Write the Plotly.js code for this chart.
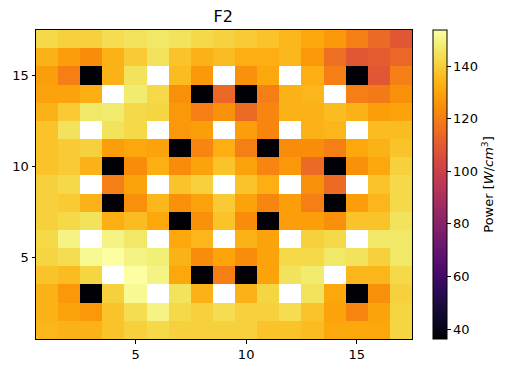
<!DOCTYPE html>
<html>
<head>
<meta charset="utf-8">
<script src="https://cdn.plot.ly/plotly-3.0.1.min.js"></script>
<style>html,body{margin:0;padding:0;background:#fff;}#chart{width:519px;height:372px;}</style>
</head>
<body>
<div id="chart"></div>
<script>
// Grid coordinates
const xCoords = [1,2,3,4,5,6,7,8,9,10,11,12,13,14,15,16,17];
const yCoords = [1,2,3,4,5,6,7,8,9,10,11,12,13,14,15,16,17];
const N = null; // masked (blank) cells
const B = 36.6; // darkest cells
// Power values, one row per y (y = 1 first)
const rowY1  = [134.5,133.5,133.5,137.5,140.5,142.5,140.5,140.5,140.5,140.5,137.5,137.5,136,131,131,131,141.5];
const rowY2  = [133.5,129.5,127,137.5,143.5,150,142.5,140.5,143.5,140.5,140.5,143.5,137.5,129.5,122,129.5,141.5];
const rowY3  = [133.5,127,B,140.5,152,N,145,133.5,N,133.5,141.5,N,145,131,B,125,140.5];
const rowY4  = [137.5,136,141.5,N,153.5,150,131,B,120,B,129.5,145,147.5,N,134.5,134.5,142.5];
const rowY5  = [141.5,143.5,152,153.5,150,148.5,133.5,124,130,124,129.5,142.5,142.5,146.5,145,140.5,146.5];
const rowY6  = [142.5,150,N,150,146.5,N,131,134.5,N,133.5,129.5,N,140.5,142.5,N,146.5,146.5];
const rowY7  = [140.5,142.5,145,132.5,136,131,B,125,137.5,124,B,128.5,128.5,125,137.5,137.5,145];
const rowY8  = [140.5,139,133.5,B,125,134.5,125,129.5,139,129.5,122,128.5,120,B,128.5,134.5,142.5];
const rowY9  = [140.5,142.5,N,120,129.5,N,137.5,140.5,N,137.5,132.5,N,125,115,N,137.5,142.5];
const rowY10 = [137.5,139,133.5,B,124,132.5,124,129.5,137.5,129.5,122,127,115,B,125,131,140.5];
const rowY11 = [137.5,139,140.5,128.5,131,129.5,B,122,132.5,120,B,124,124,120,131,133.5,137.5];
const rowY12 = [137.5,145,N,145,142.5,N,127,128.5,N,128.5,122,N,133.5,134.5,N,136,136];
const rowY13 = [133.5,139,146.5,147.5,142.5,141.5,127,120,125,115,122,133.5,133.5,136,133.5,128.5,129.5];
const rowY14 = [129.5,129.5,132.5,N,147.5,142.5,125,B,114,B,120,133.5,134.5,N,120,119,125];
const rowY15 = [128.5,120,B,133.5,145,N,136,127,N,125,131,N,132.5,120,B,109,120];
const rowY16 = [133.5,128.5,124,133.5,139,145,137.5,133.5,136,132.5,132.5,134.5,127,116,109,111,114];
const rowY17 = [142.5,140.5,140.5,143.5,145,146.5,145,142.5,141,139,137.5,134.5,131,127,120,115,109];
const zRows = [rowY1,rowY2,rowY3,rowY4,rowY5,rowY6,rowY7,rowY8,rowY9,rowY10,rowY11,rowY12,rowY13,rowY14,rowY15,rowY16,rowY17];
const xTicks = [5,10,15];
const yTicks = [5,10,15];
const cbTicks = [40,60,80,100,120,140];

const inferno = [
  [0.0,'#000004'],[0.05,'#0a0722'],[0.1,'#160b39'],[0.15,'#2a0b54'],[0.2,'#420a68'],
  [0.25,'#570f6d'],[0.3,'#6a176e'],[0.35,'#7f1e6c'],[0.4,'#932667'],[0.45,'#a82e5f'],
  [0.5,'#bc3754'],[0.55,'#cc4248'],[0.6,'#dd513a'],[0.65,'#e8622b'],[0.7,'#f37819'],
  [0.75,'#f98e09'],[0.8,'#fca50a'],[0.85,'#fbbd22'],[0.9,'#f6d746'],[0.95,'#f1ed71'],[1.0,'#fcffa4']
];

const trace = {
  type: 'heatmap',
  x: xCoords,
  y: yCoords,
  z: zRows,
  zmin: 36.2,
  zmax: 153.8,
  colorscale: inferno,
  hoverongaps: false,
  xgap: 0, ygap: 0,
  colorbar: {
    x: 1.056, xanchor: 'left', xref: 'paper', xpad: 0,
    y: 0.5, yanchor: 'middle', len: 1, lenmode: 'fraction', ypad: 0,
    thickness: 14, thicknessmode: 'pixels',
    outlinewidth: 1, outlinecolor: '#000',
    ticks: 'outside', ticklen: 3.5, tickwidth: 1, tickcolor: '#000',
    tickvals: cbTicks,
    tickfont: {family: 'DejaVu Sans', size: 13, color: '#000'},
    title: {text: 'Power [<i>W</i>/<i>cm</i><sup>3</sup>]', side: 'right',
            font: {family: 'DejaVu Sans', size: 13, color: '#000'}}
  }
};

const axisCommon = {
  range: [0.5, 17.5],
  showgrid: false, zeroline: false,
  showline: true, linecolor: '#000', linewidth: 1, mirror: true,
  ticks: 'outside', ticklen: 3.5, tickwidth: 1, tickcolor: '#000',
  tickfont: {family: 'DejaVu Sans', size: 13, color: '#000'}
};

const layout = {
  width: 519, height: 372,
  margin: {l: 36, r: 107, t: 30, b: 33, pad: 0, autoexpand: false},
  paper_bgcolor: '#fff', plot_bgcolor: '#fff',
  title: {text: 'F2', x: 0.43, xanchor: 'center', y: 0.955, yanchor: 'middle',
          font: {family: 'DejaVu Sans', size: 16, color: '#000'}},
  xaxis: Object.assign({}, axisCommon, {tickmode: 'array', tickvals: xTicks}),
  yaxis: Object.assign({}, axisCommon, {tickmode: 'array', tickvals: yTicks}),
  showlegend: false
};

Plotly.newPlot('chart', [trace], layout, {staticPlot: true, displayModeBar: false});
</script>
</body>
</html>
